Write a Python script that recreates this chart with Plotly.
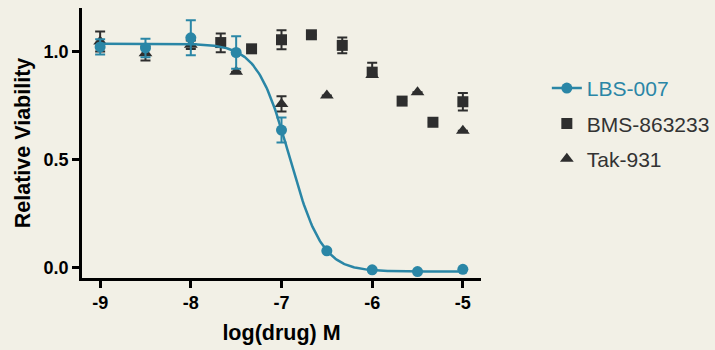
import numpy as np
import plotly.graph_objects as go

# ---- data ----
lbs_x = [-9, -8.5, -8, -7.5, -7, -6.5, -6, -5.5, -5]
lbs_y = [1.02, 1.015, 1.062, 0.994, 0.635, 0.076, -0.012, -0.02, -0.01]
lbs_err = [0.035, 0.043, 0.081, 0.075, 0.058, 0.0, 0.0, 0.0, 0.0]

# 4-parameter logistic fit for LBS-007
fit_top = 1.035
fit_bottom = -0.02
fit_logic50 = -6.91
fit_hill = 2.43

bms_x = [-7.67, -7.33, -7.0, -6.67, -6.33, -6.0, -5.67, -5.33, -5.0]
bms_y = [1.040, 1.011, 1.053, 1.076, 1.027, 0.903, 0.769, 0.671, 0.766]
bms_err_plus = [0.042, 0.0, 0.044, 0.0, 0.037, 0.043, 0.0, 0.0, 0.04]
bms_err_minus = [0.045, 0.0, 0.044, 0.0, 0.037, 0.01, 0.0, 0.0, 0.04]

tak_x = [-9, -8.5, -8, -7.5, -7, -6.5, -6, -5.5, -5]
tak_y = [1.045, 0.99, 1.03, 0.905, 0.756, 0.795, 0.89, 0.81, 0.632]
tak_err = [0.046, 0.033, 0.02, 0.0, 0.035, 0.0, 0.0, 0.0, 0.0]

x_ticks = [-9, -8, -7, -6, -5]
y_ticks = [0.0, 0.5, 1.0]

BLUE = "#2A86A6"
DARK = "#2E2E2E"
BG = "#F2F0E6"
FONT = "Liberation Sans"

curve_x = np.linspace(min(lbs_x), max(lbs_x), 300)
curve_y = fit_bottom + (fit_top - fit_bottom) / (1 + 10 ** ((curve_x - fit_logic50) * fit_hill))

fig = go.Figure()

fig.add_trace(go.Scatter(
    x=bms_x, y=bms_y, mode="markers", name="BMS-863233",
    marker=dict(symbol="square", size=11, color=DARK),
    error_y=dict(type="data", symmetric=False, array=bms_err_plus, arrayminus=bms_err_minus,
                 color=DARK, thickness=2, width=5),
    legendrank=2, legendgroup="b",
))
fig.add_trace(go.Scatter(
    x=tak_x, y=tak_y, mode="markers", name="Tak-931",
    marker=dict(symbol="triangle-up", size=12, color=DARK),
    error_y=dict(type="data", array=tak_err, color=DARK, thickness=2, width=5),
    legendrank=3, legendgroup="c",
))
fig.add_trace(go.Scatter(
    x=curve_x, y=curve_y, mode="lines", showlegend=False,
    line=dict(color=BLUE, width=2.5),
))
fig.add_trace(go.Scatter(
    x=lbs_x, y=lbs_y, mode="markers", showlegend=False,
    marker=dict(symbol="circle", size=11, color=BLUE),
    error_y=dict(type="data", array=lbs_err, color=BLUE, thickness=2, width=5),
))
fig.add_trace(go.Scatter(
    x=[None], y=[None], mode="lines+markers",
    name=f"<span style='color:{BLUE}'>LBS-007</span>",
    line=dict(color=BLUE, width=2.5),
    marker=dict(symbol="circle", size=11, color=BLUE),
    legendrank=1, legendgroup="a",
))

axis_common = dict(
    showgrid=False, zeroline=False, showline=True, linecolor="black", linewidth=2.5,
    ticks="outside", ticklen=7, tickwidth=2.5, tickcolor="black",
    tickfont=dict(family=FONT, size=18, color="black", weight="bold"),
)

fig.update_layout(
    width=715, height=350,
    margin=dict(l=82, r=234, t=8, b=72, autoexpand=False),
    paper_bgcolor=BG, plot_bgcolor=BG,
    font=dict(family=FONT, color="#333333"),
    xaxis=dict(
        range=[-9.2, -4.8], tickvals=x_ticks, ticktext=[str(v) for v in x_ticks],
        title=dict(text="log(drug) M", font=dict(family=FONT, size=21.5, color="black", weight="bold"),
                   standoff=13),
        **axis_common,
    ),
    yaxis=dict(
        range=[-0.05, 1.2], tickvals=y_ticks, ticktext=[f"{v:.1f}" for v in y_ticks],
        title=dict(text="Relative Viability", font=dict(family=FONT, size=21.5, color="black", weight="bold"),
                   standoff=8),
        **axis_common,
    ),
    legend=dict(
        x=1.165, xanchor="left", y=0.778, yanchor="top",
        font=dict(family=FONT, size=21, color="#333333"),
        bgcolor="rgba(0,0,0,0)", traceorder="grouped", tracegroupgap=5,
    ),
)

fig.write_html(
    "out.html",
    config={"displayModeBar": False},
    post_script="document.body.style.margin='0';document.body.style.background='" + BG + "';",
)
